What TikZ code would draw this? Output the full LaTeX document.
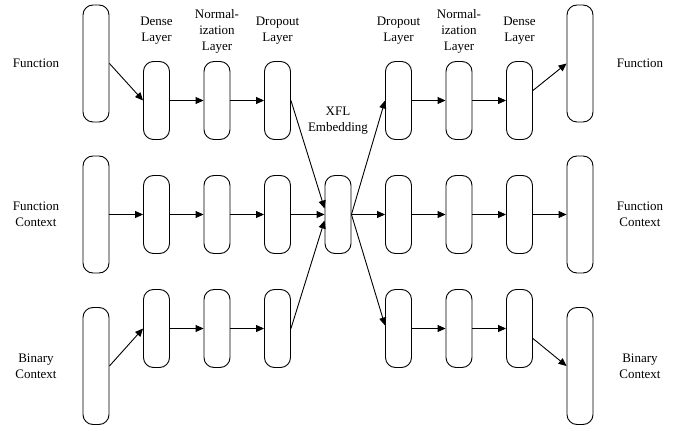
\documentclass[tikz,border=0pt]{standalone}
\usepackage{fontspec}
\setmainfont{Liberation Serif}
\usepackage{tikz}
\usetikzlibrary{arrows.meta}

\begin{document}
\begin{tikzpicture}[x=1pt, y=-1pt, line width=0.9pt,
    layer/.style={draw, rounded corners=10pt, minimum width=26pt, minimum height=78pt, inner sep=0pt},
    io/.style={draw, rounded corners=10pt, minimum width=26pt, minimum height=117pt, inner sep=0pt},
    lbl/.style={align=center, font=\fontsize{13}{16}\selectfont, inner sep=0pt},
    arr/.style={-{Triangle[length=8pt, width=7pt]}}]
            \useasboundingbox (0, 0) rectangle (678, 430);

            % inputs
            \node[io] (f0) at (96, 63.5) {};
            \node[io] (c0) at (96, 214.5) {};
            \node[io] (b0) at (96, 366) {};

            % encoder layers
            \node[layer] (f1) at (156.5, 100.5) {};
            \node[layer] (f2) at (217, 100.5) {};
            \node[layer] (f3) at (277.5, 100.5) {};
            \node[layer] (c1) at (156.5, 214.5) {};
            \node[layer] (c2) at (217, 214.5) {};
            \node[layer] (c3) at (277.5, 214.5) {};
            \node[layer] (b1) at (156.5, 328.5) {};
            \node[layer] (b2) at (217, 328.5) {};
            \node[layer] (b3) at (277.5, 328.5) {};

            \node[layer] (xfl) at (338, 214.5) {};

            % decoder layers
            \node[layer] (f5) at (398.5, 100.5) {};
            \node[layer] (f6) at (459, 100.5) {};
            \node[layer] (f7) at (519.5, 100.5) {};
            \node[layer] (c5) at (398.5, 214.5) {};
            \node[layer] (c6) at (459, 214.5) {};
            \node[layer] (c7) at (519.5, 214.5) {};
            \node[layer] (b5) at (398.5, 328.5) {};
            \node[layer] (b6) at (459, 328.5) {};
            \node[layer] (b7) at (519.5, 328.5) {};

            % outputs
            \node[io] (f8) at (580, 63.5) {};
            \node[io] (c8) at (580, 214.5) {};
            \node[io] (b8) at (580, 366) {};

            % labels
            \node[lbl] (lf) at (36, 63.5) {Function};
            \node[lbl] (lc) at (36, 214.5) {Function\\Context};
            \node[lbl] (lb) at (36, 366) {Binary\\Context};
            \node[lbl] (rf) at (640, 63.5) {Function};
            \node[lbl] (rc) at (640, 214.5) {Function\\Context};
            \node[lbl] (rb) at (640, 366) {Binary\\Context};
            \node[lbl] (t1) at (156.5, 31) {Dense\\Layer};
            \node[lbl] (t2) at (217, 31) {Normal-\\ization\\Layer};
            \node[lbl] (t3) at (277.5, 31) {Dropout\\Layer};
            \node[lbl] (t5) at (398.5, 31) {Dropout\\Layer};
            \node[lbl] (t6) at (459, 31) {Normal-\\ization\\Layer};
            \node[lbl] (t7) at (519.5, 31) {Dense\\Layer};
            \node[lbl] (tx) at (338, 120.5) {XFL\\Embedding};

            \draw[arr] (f0.east) -- (f1.west);
            \draw[arr] (f1.east) -- (f2.west);
            \draw[arr] (f2.east) -- (f3.west);
            \draw[arr] (c0.east) -- (c1.west);
            \draw[arr] (c1.east) -- (c2.west);
            \draw[arr] (c2.east) -- (c3.west);
            \draw[arr] (b0.east) -- (b1.west);
            \draw[arr] (b1.east) -- (b2.west);
            \draw[arr] (b2.east) -- (b3.west);

            \draw[arr] (f3.east) -- ([yshift=6pt]xfl.west);
            \draw[arr] (c3.east) -- (xfl.west);
            \draw[arr] (b3.east) -- ([yshift=-6pt]xfl.west);
            \draw[arr] (xfl.east) -- (f5.west);
            \draw[arr] (xfl.east) -- (c5.west);
            \draw[arr] (xfl.east) -- ([yshift=3pt]b5.west);

            \draw[arr] (f5.east) -- (f6.west);
            \draw[arr] (f6.east) -- (f7.west);
            \draw[arr] (c5.east) -- (c6.west);
            \draw[arr] (c6.east) -- (c7.west);
            \draw[arr] (b5.east) -- (b6.west);
            \draw[arr] (b6.east) -- (b7.west);
            \draw[arr] ([yshift=10pt]f7.east) -- (f8.west);
            \draw[arr] (c7.east) -- (c8.west);
            \draw[arr] ([yshift=-10pt]b7.east) -- (b8.west);
        \end{tikzpicture}
\end{document}
